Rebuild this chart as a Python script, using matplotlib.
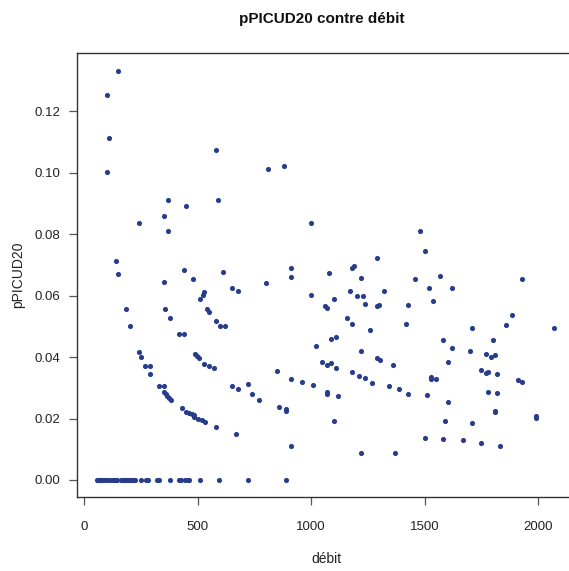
import matplotlib
matplotlib.use("Agg")
import matplotlib.pyplot as plt

plt.rcParams['font.family'] = ['Liberation Sans', 'DejaVu Sans']

# Points with zero pPICUD20
debit_zero = [55, 62, 68, 75, 82, 90, 96, 103, 118, 125, 130, 136, 142, 162, 170,
              178, 185, 192, 200, 208, 215, 224, 250, 270, 280, 318, 328, 379, 417,
              426, 443, 455, 463, 508, 592, 721, 891]
ppicud_zero = [0.0] * len(debit_zero)

# Points with non-zero pPICUD20
debit_nz = [149, 98, 110, 98, 579, 808, 880,
            370, 590, 448, 351, 240, 370, 998,
            140, 149, 440, 480, 351, 611, 910, 910,
            651, 677, 800, 527, 522, 510, 998,
            181, 357, 377, 539, 548, 580,
            200, 599, 619, 417, 440,
            239, 248, 267, 290, 290,
            488, 496, 505, 527, 549, 571,
            650, 679, 723,
            330, 352, 352, 358, 365, 373, 380,
            429, 449, 463, 476, 485, 482, 501, 520, 530,
            580, 670,
            1080, 1179, 1191, 1291, 1219, 1458,
            1172, 1200, 1230, 1322, 1061, 1069, 1101,
            1239, 1291, 1301, 1429, 1160,
            1179, 1258, 1420, 1089, 1108, 1022, 1219,
            1049, 1069, 1089, 1109, 1290, 1303, 1361,
            848, 741, 770, 911, 958, 1010, 1069, 1069,
            1120, 1180, 1211, 1239, 1270, 1341, 1389, 1429,
            860, 891, 891, 1101, 911, 1219, 1370,
            1481, 1500, 1570, 1520, 1623, 1539, 1931,
            1884, 1859, 1709, 2072, 1583, 1800,
            1623, 1701, 1772, 1792, 1812, 1603, 1751,
            1772, 1781, 1819, 1910, 1931, 1529, 1529, 1551,
            1511, 1603, 1779, 1819, 1812, 1812, 1990, 1990,
            1591, 1709, 1500, 1583, 1670, 1751, 1831]
ppicud_nz = [0.1332, 0.1251, 0.1111, 0.1001, 0.1073, 0.1011, 0.1023,
             0.0910, 0.0910, 0.0890, 0.0858, 0.0835, 0.0811, 0.0835,
             0.0714, 0.0669, 0.0683, 0.0654, 0.0645, 0.0676, 0.0688, 0.0659,
             0.0624, 0.0616, 0.0642, 0.0613, 0.0602, 0.0590, 0.0602,
             0.0555, 0.0555, 0.0527, 0.0555, 0.0545, 0.0518,
             0.0500, 0.0500, 0.0500, 0.0476, 0.0476,
             0.0417, 0.0400, 0.0371, 0.0371, 0.0345,
             0.0410, 0.0403, 0.0396, 0.0378, 0.0371, 0.0365,
             0.0307, 0.0295, 0.0313,
             0.0305, 0.0305, 0.0287, 0.0280, 0.0272, 0.0267, 0.0261,
             0.0234, 0.0222, 0.0218, 0.0214, 0.0210, 0.0205, 0.0198, 0.0194, 0.0190,
             0.0172, 0.0150,
             0.0674, 0.0688, 0.0697, 0.0721, 0.0657, 0.0654,
             0.0616, 0.0598, 0.0598, 0.0616, 0.0567, 0.0560, 0.0590,
             0.0574, 0.0566, 0.0569, 0.0569, 0.0526,
             0.0507, 0.0487, 0.0508, 0.0459, 0.0466, 0.0435, 0.0420,
             0.0383, 0.0374, 0.0380, 0.0365, 0.0397, 0.0391, 0.0374,
             0.0353, 0.0279, 0.0260, 0.0329, 0.0319, 0.0310, 0.0285, 0.0281,
             0.0272, 0.0350, 0.0339, 0.0333, 0.0315, 0.0307, 0.0295, 0.0281,
             0.0236, 0.0230, 0.0225, 0.0193, 0.0112, 0.0088, 0.0088,
             0.0811, 0.0744, 0.0662, 0.0624, 0.0624, 0.0583, 0.0654,
             0.0537, 0.0505, 0.0493, 0.0493, 0.0457, 0.0457,
             0.0431, 0.0420, 0.0409, 0.0400, 0.0405, 0.0385, 0.0357,
             0.0348, 0.0350, 0.0345, 0.0324, 0.0318, 0.0336, 0.0328, 0.0329,
             0.0275, 0.0255, 0.0286, 0.0283, 0.0225, 0.0222, 0.0207, 0.0202,
             0.0191, 0.0184, 0.0138, 0.0134, 0.0129, 0.0120, 0.0112]

x_ticks = [0, 500, 1000, 1500, 2000]
x_ticklabels = ["0", "500", "1000", "1500", "2000"]
y_ticks = [0.00, 0.02, 0.04, 0.06, 0.08, 0.10, 0.12]
y_ticklabels = ["0.00", "0.02", "0.04", "0.06", "0.08", "0.10", "0.12"]

W, H = 569, 571
fig = plt.figure(figsize=(W / 100, H / 100), dpi=100)
fig.patch.set_facecolor("white")
ax = fig.add_axes([77 / W, 74 / H, (576 - 77) / W, (497 - 53) / H])

color = "#283c8c"
ax.plot(debit_zero + debit_nz, ppicud_zero + ppicud_nz, linestyle="none",
        marker="o", markersize=3.7, markeredgewidth=0, color=color)

ax.set_xlim(-33, 2168)
ax.set_ylim(-0.00553, 0.1389)

ax.set_xticks(x_ticks)
ax.set_xticklabels(x_ticklabels)
ax.set_yticks(y_ticks)
ax.set_yticklabels(y_ticklabels)

for s in ax.spines.values():
    s.set_color("#333333")
    s.set_linewidth(1.0)

ax.tick_params(axis="both", direction="out", length=6, width=0.9,
               color="#555555", labelsize=9.5, labelcolor="#222222")
ax.tick_params(axis="x", pad=11)
ax.tick_params(axis="y", pad=6)

ax.set_xlabel("débit", fontsize=10, color="#222222", labelpad=14)
ax.set_ylabel("pPICUD20", fontsize=10, color="#222222", labelpad=7)
fig.text(322 / W, 1 - 19 / H, "pPICUD20 contre débit", ha="center", va="center",
         fontsize=11, fontweight="bold", color="#111111")

fig.savefig("out.png", dpi=100, facecolor="white")
